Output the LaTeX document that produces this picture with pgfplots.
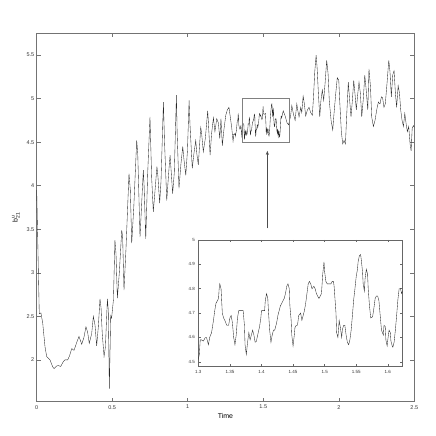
\documentclass[border=0pt]{standalone}
\usepackage{pgfplots}
\pgfplotsset{compat=1.18}
\usepackage{pgfplotstable}
\usepackage{amsmath}
\usepackage{fontspec}
\setmainfont{Liberation Sans}
\usetikzlibrary{arrows.meta}

\pgfplotstableread{
t y
0 3.95
0.017 2.53
0.028 2.54
0.04 2.42
0.055 2.15
0.066 2.04
0.088 2.0
0.106 1.92
0.115 1.90
0.132 1.93
0.143 1.935
0.159 1.925
0.176 1.98
0.187 2.0
0.205 2.0
0.216 2.04
0.232 2.13
0.247 2.11
0.265 2.2
0.28 2.27
0.298 2.18
0.313 2.26
0.326 2.38
0.337 2.32
0.348 2.19
0.364 2.3
0.375 2.50
0.386 2.4
0.397 2.16
0.408 2.38
0.419 2.70
0.426 2.6
0.434 2.30
0.446 2.04
0.455 2.15
0.468 2.70
0.474 2.57
0.481 1.67
0.49 2.51
0.496 2.48
0.508 2.69
0.518 3.375
0.525 3.22
0.534 2.71
0.547 3.0
0.563 3.49
0.569 3.41
0.578 2.80
0.591 3.27
0.611 4.14
0.62 3.95
0.629 3.34
0.643 3.76
0.662 4.52
0.669 4.37
0.684 3.41
0.706 4.18
0.711 4.0
0.722 3.39
0.735 4.15
0.75 4.79
0.761 4.1
0.772 3.70
0.786 4.0
0.796 4.22
0.803 4.1
0.814 3.80
0.823 4.05
0.839 4.96
0.846 4.52
0.861 3.83
0.876 4.2
0.883 4.35
0.889 4.2
0.9 3.91
0.911 4.15
0.925 5.04
0.93 4.6
0.942 3.97
0.955 4.25
0.967 4.45
0.975 4.3
0.987 4.12
0.998 4.4
1.009 4.98
1.015 4.7
1.03 4.2
1.041 4.37
1.053 4.52
1.06 4.37
1.07 4.24
1.086 4.67
1.092 4.6
1.103 4.39
1.117 4.55
1.132 4.86
1.136 4.75
1.148 4.35
1.158 4.6
1.17 4.78
1.18 4.62
1.192 4.77
1.203 4.72
1.212 4.54
1.22 4.77
1.229 4.46
1.24 4.65
1.252 4.81
1.262 4.87
1.273 4.90
1.28 4.81
1.291 4.67
1.3 4.51
1.3016 4.53
1.303 4.59
1.305 4.59
1.308 4.585
1.311 4.60
1.313 4.60
1.316 4.57
1.318 4.60
1.321 4.62
1.324 4.67
1.326 4.71
1.328 4.74
1.33 4.75
1.332 4.76
1.333 4.80
1.334 4.82
1.336 4.80
1.338 4.70
1.340 4.68
1.342 4.67
1.345 4.65
1.348 4.65
1.35 4.68
1.352 4.69
1.354 4.66
1.356 4.60
1.358 4.57
1.36 4.61
1.362 4.68
1.364 4.71
1.366 4.71
1.369 4.71
1.371 4.71
1.373 4.65
1.374 4.57
1.376 4.53
1.378 4.58
1.38 4.62
1.382 4.59
1.384 4.61
1.386 4.63
1.388 4.61
1.39 4.58
1.392 4.585
1.394 4.61
1.397 4.645
1.399 4.68
1.40 4.71
1.402 4.71
1.405 4.71
1.406 4.75
1.408 4.78
1.41 4.76
1.411 4.71
1.413 4.63
1.415 4.58
1.417 4.61
1.419 4.63
1.421 4.63
1.424 4.66
1.426 4.69
1.428 4.71
1.43 4.73
1.432 4.74
1.434 4.75
1.436 4.76
1.438 4.78
1.44 4.81
1.442 4.82
1.444 4.80
1.445 4.73
1.447 4.67
1.448 4.61
1.45 4.565
1.452 4.61
1.453 4.64
1.455 4.65
1.457 4.65
1.459 4.69
1.462 4.70
1.464 4.67
1.466 4.69
1.468 4.71
1.47 4.74
1.472 4.78
1.474 4.82
1.476 4.83
1.478 4.82
1.48 4.80
1.483 4.81
1.485 4.80
1.487 4.78
1.489 4.77
1.491 4.76
1.493 4.77
1.495 4.78
1.497 4.86
1.499 4.91
1.50 4.87
1.502 4.83
1.504 4.82
1.506 4.82
1.508 4.82
1.51 4.82
1.512 4.83
1.514 4.83
1.515 4.81
1.518 4.70
1.519 4.62
1.521 4.60
1.522 4.63
1.523 4.67
1.525 4.64
1.527 4.60
1.528 4.63
1.53 4.65
1.532 4.65
1.534 4.61
1.536 4.58
1.538 4.57
1.54 4.59
1.542 4.63
1.544 4.69
1.546 4.755
1.548 4.80
1.55 4.85
1.552 4.88
1.553 4.91
1.555 4.935
1.557 4.94
1.558 4.92
1.56 4.87
1.561 4.82
1.563 4.79
1.564 4.84
1.566 4.88
1.568 4.86
1.569 4.80
1.571 4.73
1.573 4.68
1.576 4.685
1.578 4.72
1.58 4.76
1.582 4.77
1.584 4.77
1.586 4.75
1.588 4.69
1.59 4.63
1.593 4.61
1.594 4.65
1.596 4.645
1.597 4.59
1.599 4.565
1.6 4.59
1.602 4.63
1.604 4.62
1.605 4.585
1.607 4.565
1.608 4.56
1.61 4.58
1.612 4.63
1.614 4.69
1.616 4.755
1.618 4.80
1.62 4.80
1.622 4.78
1.632 4.86
1.645 4.80
1.658 4.72
1.668 4.70
1.681 4.80
1.689 4.92
1.70 4.82
1.711 4.75
1.722 4.94
1.728 4.87
1.737 4.79
1.748 4.90
1.755 4.84
1.764 5.03
1.772 4.94
1.781 4.80
1.792 4.87
1.803 4.90
1.814 4.84
1.825 4.81
1.832 5.0
1.841 5.31
1.85 5.50
1.856 5.37
1.865 5.06
1.874 4.79
1.882 4.98
1.891 5.10
1.9 4.98
1.909 5.17
1.92 5.44
1.929 5.29
1.937 4.98
1.949 4.75
1.96 4.64
1.968 4.82
1.98 5.06
1.99 5.24
2.0 5.21
2.006 4.98
2.017 4.62
2.026 4.48
2.035 4.52
2.044 4.48
2.052 4.79
2.063 5.19
2.072 4.98
2.081 4.79
2.09 4.98
2.099 5.21
2.107 5.06
2.116 4.87
2.126 5.06
2.134 5.19
2.143 5.06
2.152 4.79
2.163 5.01
2.172 5.27
2.18 5.13
2.192 4.87
2.2 5.34
2.21 5.13
2.218 4.79
2.229 4.68
2.24 4.75
2.251 4.87
2.262 4.96
2.273 4.94
2.282 5.02
2.29 5.01
2.299 4.9
2.308 4.94
2.32 5.19
2.331 5.44
2.339 5.31
2.348 5.02
2.357 5.27
2.366 5.32
2.375 5.06
2.383 4.9
2.393 5.15
2.402 5.06
2.41 4.87
2.419 4.75
2.428 4.68
2.437 4.83
2.446 4.71
2.454 4.62
2.463 4.68
2.472 4.48
2.479 4.40
2.486 4.66
2.494 4.69
2.5 4.67
}\maindata

\begin{document}
\begin{tikzpicture}
\useasboundingbox (-36.7bp,-34.3bp) rectangle (399.3bp,401.7bp);
\begin{axis}[
    at={(0,0)}, anchor=south west,
    scale only axis,
    width=377.6bp, height=368.4bp,
    xmin=0, xmax=2.5, ymin=1.52, ymax=5.75,
    xtick={0,0.5,1,1.5,2,2.5},
    ytick={2,2.5,3,3.5,4,4.5,5,5.5},
    tick align=inside,
    major tick length=4bp,
    axis line style={black!55, line width=0.5pt},
    tick style={black!55, line width=0.5pt},
    tick label style={font=\fontsize{5.5}{6.5}\selectfont, black!80},
    yticklabel style={xshift=1bp},
    /pgf/number format/assume math mode=true,
    xlabel={Time},
    ylabel={b$^{\text{u}}_{\text{21}}$},
    label style={font=\fontsize{7}{8}\selectfont},
    xlabel style={yshift=2bp},
    ]
\addplot[black!85, line width=0.35pt] table[x=t, y=y] {\maindata};
\draw[black!50, line width=0.4pt] (axis cs:1.362,4.5) rectangle (axis cs:1.673,5.0);
\draw[black!70, line width=0.4pt, -{Stealth[length=4bp,width=3bp]}] (axis cs:1.527,3.51) -- (axis cs:1.527,4.40);
\end{axis}
\begin{axis}[
    at={(161.6bp,35bp)}, anchor=south west,
    scale only axis,
    width=204bp, height=126.7bp,
    xmin=1.3, xmax=1.623, ymin=4.48, ymax=5.0,
    xtick={1.3,1.35,1.4,1.45,1.5,1.55,1.6},
    ytick={4.5,4.6,4.7,4.8,4.9,5},
    tick align=inside,
    major tick length=2.5bp,
    axis background/.style={fill=white},
    axis line style={black!60, line width=0.5pt},
    tick style={black!60, line width=0.5pt},
    tick label style={font=\fontsize{4.5}{5}\selectfont, black!80},
    /pgf/number format/assume math mode=true,
    ]
\addplot[black!85, line width=0.35pt] table[x=t, y=y] {\maindata};
\end{axis}
\end{tikzpicture}
\end{document}
